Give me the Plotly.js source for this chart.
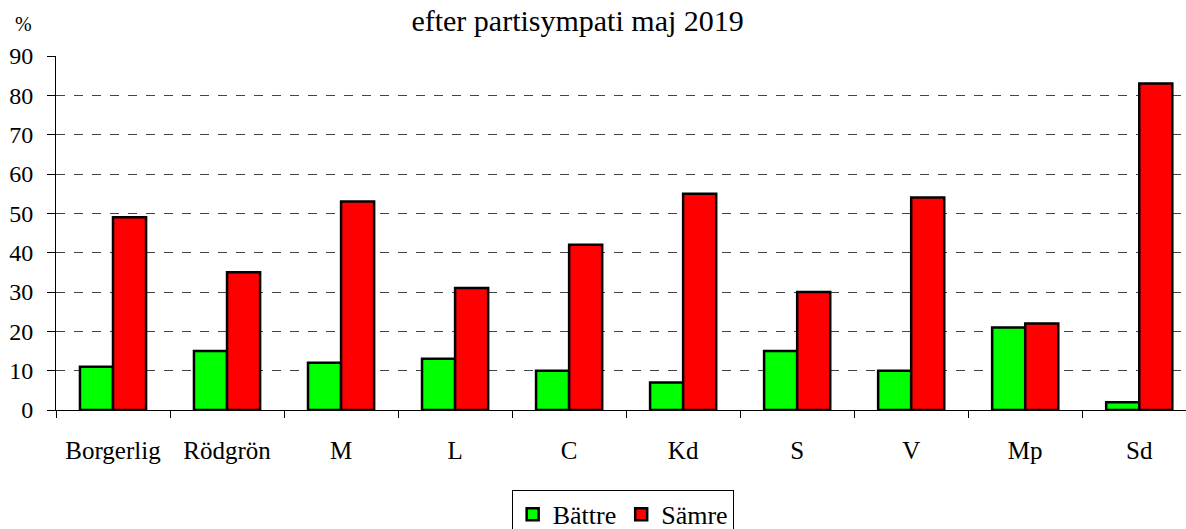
<!DOCTYPE html>
<html><head><meta charset="utf-8">
<script src="https://cdn.plot.ly/plotly-3.0.1.min.js"></script>
<style>html,body{margin:0;padding:0;background:#fff}</style>
</head><body>
<div id="chart" style="width:1186px;height:529px"></div>
<script>
const categories = ["Borgerlig","Rödgrön","M","L","C","Kd","S","V","Mp","Sd"];
const battre = [11,15,12,13,10,7,15,10,21,2];
const samre = [49,35,53,31,42,55,30,54,22,83];
const yTicks = [0,10,20,30,40,50,60,70,80,90];

const fam = "Liberation Serif, Times New Roman, serif";
const font = {family:fam, color:"#000", size:24};
const traces = [
  {type:"bar", name:"Bättre", x:categories, y:battre, marker:{color:"#00ff00", line:{color:"#000", width:2.5}}},
  {type:"bar", name:"Sämre", x:categories, y:samre, marker:{color:"#ff0000", line:{color:"#000", width:2.5}}}
];
const layout = {
  width:1186, height:529,
  margin:{l:56, r:0, t:56, b:119},
  paper_bgcolor:"#fff", plot_bgcolor:"#fff",
  font:font,
  barmode:"group", bargap:0.42, bargroupgap:0,
  title:{text:"efter partisympati maj 2019", x:0.487, xanchor:"center", y:0.962, yanchor:"middle", font:{family:fam, size:30, color:"#000"}},
  xaxis:{type:"category", range:[-0.5, 9.41], tickson:"boundaries", ticks:"outside", ticklen:7, tickcolor:"#000", tickwidth:1, automargin:false,
         showline:true, linecolor:"#000", linewidth:1, showgrid:false, ticklabelstandoff:18, tickfont:{family:fam, size:25, color:"#000"}, fixedrange:true},
  yaxis:{range:[0,90], tickvals:yTicks, ticks:"outside", ticklen:8, tickcolor:"#000", showline:true, linecolor:"#000", linewidth:1, automargin:false,
         showgrid:true, gridcolor:"#444", griddash:"dash", gridwidth:1, zeroline:false, tickfont:{family:fam, size:24, color:"#000"}, ticklabelstandoff:9},
  annotations:[{text:"%", xref:"paper", yref:"paper", x:-0.029, y:1.09, xanchor:"center", yanchor:"middle", showarrow:false, font:{family:fam, size:20, color:"#000"}}],
  legend:{orientation:"h", xref:"container", yref:"container", x:0.525, xanchor:"center", y:0.074, yanchor:"top", bordercolor:"#000", borderwidth:1, bgcolor:"#fff",
          font:{family:fam, size:26, color:"#000"}, itemwidth:30, traceorder:"normal", tracegroupgap:0},
  showlegend:true
};
Plotly.newPlot("chart", traces, layout, {displayModeBar:false, staticPlot:true});
</script>
</body></html>
